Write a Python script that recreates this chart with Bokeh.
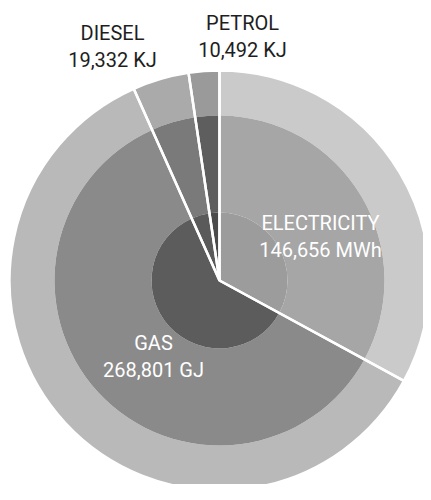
import math
from bokeh.plotting import figure
from bokeh.models import Range1d, ColumnDataSource
from bokeh.core.properties import value
from bokeh.embed import file_html
from bokeh.resources import INLINE

# ---- data ----
categories = ["ELECTRICITY", "GAS", "DIESEL", "PETROL"]
amounts = [146656, 268801, 19332, 10492]
value_labels = ["146,656 MWh", "268,801 GJ", "19,332 KJ", "10,492 KJ"]

# ---- styling ----
outer_colors = ["#cacaca", "#b9b9b9", "#aaaaaa", "#9a9a9a"]
mid_colors = ["#a6a6a6", "#8a8a8a", "#7a7a7a", "#5e5e5e"]
core_colors = ["#9c9c9c", "#5c5c5c", "#5a5a5a", "#4a4a4a"]
text_colors = ["white", "white", "#1e1e1e", "#1e1e1e"]
# label anchor (x, y of the first line's baseline) in plot units
label_pos = [(101, 58), (-66, -62), (-107, 248), (23, 258)]
line_gap = 27

R_OUT, R_MID, R_CORE = 210, 165, 68

total = sum(amounts)
starts, ends = [], []
cum = 0.0
for a in amounts:
    s = cum / total
    cum += a
    e = cum / total
    # clockwise from 12 o'clock
    starts.append(math.pi / 2 - 2 * math.pi * e)
    ends.append(math.pi / 2 - 2 * math.pi * s)

src = ColumnDataSource(dict(cat=categories, start=starts, end=ends,
                            outer=outer_colors, mid=mid_colors, core=core_colors))

p = figure(width=423, height=484, output_backend="svg", toolbar_location=None,
           x_range=Range1d(-219, 204), y_range=Range1d(-204, 280),
           min_border=0, outline_line_color=None)
p.axis.visible = False
p.grid.visible = False
p.background_fill_color = "white"
p.border_fill_color = "white"

p.annular_wedge(x=0, y=0, inner_radius=R_MID, outer_radius=R_OUT,
                start_angle="start", end_angle="end", fill_color="outer",
                line_color=None, source=src)
p.annular_wedge(x=0, y=0, inner_radius=R_CORE, outer_radius=R_MID,
                start_angle="start", end_angle="end", fill_color="mid",
                line_color=None, source=src)
p.wedge(x=0, y=0, radius=R_CORE, start_angle="start", end_angle="end",
        fill_color="core", line_color=None, source=src)
# white separators
p.wedge(x=0, y=0, radius=R_OUT, start_angle="start", end_angle="end",
        fill_alpha=0, line_color="white", line_width=2.5, source=src)

for i, cat in enumerate(categories):
    lx, ly = label_pos[i]
    p.text(x=[lx, lx], y=[ly, ly - line_gap], text=[cat, value_labels[i]],
           text_align="center", text_baseline="alphabetic",
           text_font=value("Roboto"), text_font_size="20px",
           text_color=text_colors[i])

open("out.html", "w").write(file_html(p, INLINE))
